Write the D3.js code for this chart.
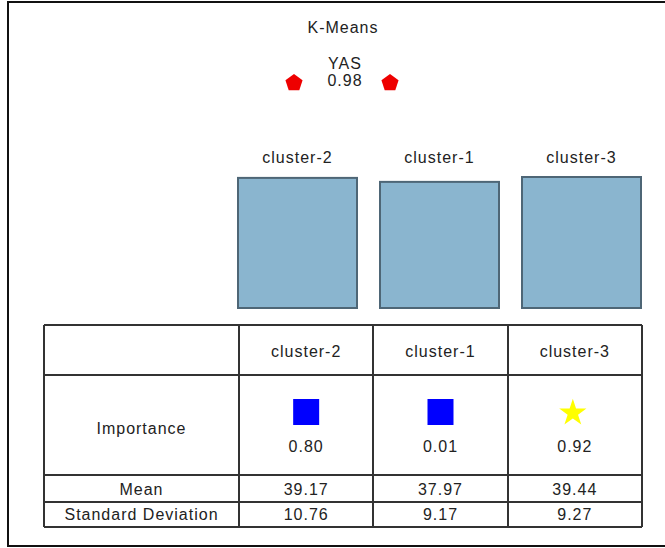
<!DOCTYPE html>
<html>
<head>
<meta charset="utf-8">
<script src="https://cdn.jsdelivr.net/npm/d3@7"></script>
<style>
  html, body { margin: 0; padding: 0; background: #fff; }
  svg text { font-family: "Liberation Sans", Arial, sans-serif; font-size: 16px; letter-spacing: 1px; fill: #222; }
</style>
</head>
<body>
<svg id="chart" width="665" height="548"></svg>
<script>
// ---- data ----
const title = "K-Means";
const targetName = "YAS";
const targetValue = "0.98";
const clusters = ["cluster-2", "cluster-1", "cluster-3"];
const importance = [0.80, 0.01, 0.92];
const importanceShape = ["square", "square", "star"];
const means = [39.17, 37.97, 39.44];
const stdDevs = [10.76, 9.17, 9.27];
const rowLabels = ["", "Importance", "Mean", "Standard Deviation"];

// ---- drawing ----
const svg = d3.select("#chart");

// outer frame
svg.append("rect").attr("x", 8).attr("y", 2).attr("width", 680).attr("height", 544)
  .attr("fill", "none").attr("stroke", "#111").attr("stroke-width", 2);

// title
svg.append("text").attr("x", 343).attr("y", 27).attr("text-anchor", "middle")
  .attr("dominant-baseline", "central").text(title);
svg.append("text").attr("x", 345).attr("y", 63).attr("text-anchor", "middle")
  .attr("dominant-baseline", "central").text(targetName);
svg.append("text").attr("x", 345).attr("y", 80).attr("text-anchor", "middle")
  .attr("dominant-baseline", "central").text(targetValue);

// pentagon markers
const pent = d3.range(5).map(i => {
  const a = -Math.PI / 2 + i * 2 * Math.PI / 5;
  return [9 * Math.cos(a), 9 * Math.sin(a)];
});
[294, 390].forEach(cx => {
  svg.append("polygon").attr("points", pent.map(p => [p[0] + cx, p[1] + 83].join(",")).join(" "))
    .attr("fill", "#ee0000");
});

// bars (height by mean)
const xBar = d3.scaleBand().domain(clusters).range([238, 641]).paddingInner(0.162).paddingOuter(0);
const yBar = d3.scaleLinear().domain([0, d3.max(means)]).range([308, 177]);

svg.selectAll("text.barlabel").data(clusters).join("text").attr("class", "barlabel")
  .attr("x", d => xBar(d) + xBar.bandwidth() / 2).attr("y", 157)
  .attr("text-anchor", "middle").attr("dominant-baseline", "central").text(d => d);

svg.selectAll("rect.bar").data(clusters).join("rect").attr("class", "bar")
  .attr("x", d => xBar(d)).attr("width", xBar.bandwidth())
  .attr("y", (d, i) => yBar(means[i])).attr("height", (d, i) => yBar(0) - yBar(means[i]))
  .attr("fill", "#8ab5cf").attr("stroke", "#4e6676").attr("stroke-width", 2);

// table
const colEdges = [44, 239, 373, 508, 642];
const rowEdges = [325, 375, 475, 502, 527];
const xCol = d3.scaleBand().domain(clusters).range([239, 642]);
const lineColor = "#333";

const grid = svg.append("g");
rowEdges.forEach(y => grid.append("line").attr("x1", colEdges[0]).attr("x2", colEdges[4])
  .attr("y1", y).attr("y2", y).attr("stroke", lineColor).attr("stroke-width", 2));
colEdges.forEach(x => grid.append("line").attr("x1", x).attr("x2", x)
  .attr("y1", rowEdges[0]).attr("y2", rowEdges[4]).attr("stroke", lineColor).attr("stroke-width", 2));

const labelX = (colEdges[0] + colEdges[1]) / 2;
const rowCenters = [350, 428, 489, 514];
rowLabels.forEach((t, i) => {
  if (!t) return;
  svg.append("text").attr("x", labelX).attr("y", rowCenters[i]).attr("text-anchor", "middle")
    .attr("dominant-baseline", "central").text(t);
});

const cx = d => xCol(d) + xCol.bandwidth() / 2;
// header
svg.selectAll("text.hdr").data(clusters).join("text").attr("class", "hdr")
  .attr("x", cx).attr("y", 351).attr("text-anchor", "middle").attr("dominant-baseline", "central").text(d => d);

// importance symbols
clusters.forEach((c, i) => {
  const x = cx(c), y = 412;
  if (importanceShape[i] === "square") {
    svg.append("rect").attr("x", x - 13).attr("y", y - 13).attr("width", 26).attr("height", 26).attr("fill", "#0000ff");
  } else {
    svg.append("path").attr("d", d3.symbol().type(d3.symbolStar).size(230)())
      .attr("transform", `translate(${x - 2},${y + 1})`).attr("fill", "#ffff00");
  }
});
svg.selectAll("text.imp").data(clusters).join("text").attr("class", "imp")
  .attr("x", cx).attr("y", 446).attr("text-anchor", "middle").attr("dominant-baseline", "central")
  .text((d, i) => importance[i].toFixed(2));

svg.selectAll("text.mean").data(clusters).join("text").attr("class", "mean")
  .attr("x", cx).attr("y", 489).attr("text-anchor", "middle").attr("dominant-baseline", "central")
  .text((d, i) => means[i].toFixed(2));
svg.selectAll("text.sd").data(clusters).join("text").attr("class", "sd")
  .attr("x", cx).attr("y", 514).attr("text-anchor", "middle").attr("dominant-baseline", "central")
  .text((d, i) => stdDevs[i].toFixed(2));
</script>
</body>
</html>
